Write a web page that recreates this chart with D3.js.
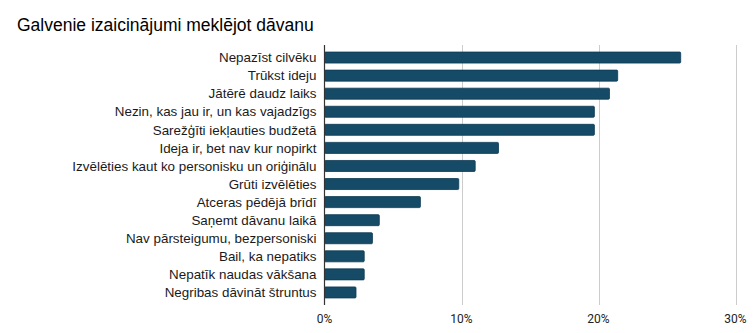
<!DOCTYPE html>
<html>
<head>
<meta charset="utf-8">
<script src="https://cdn.jsdelivr.net/npm/d3@7"></script>
<style>
  html, body { margin: 0; padding: 0; background: #fff; }
  svg { display: block; }
</style>
</head>
<body>
<svg id="chart" width="755" height="333"></svg>
<script>
// Survey answers, share of respondents (%)
const categories = [
  "Nepazīst cilvēku",
  "Trūkst ideju",
  "Jātērē daudz laiks",
  "Nezin, kas jau ir, un kas vajadzīgs",
  "Sarežģīti iekļauties budžetā",
  "Ideja ir, bet nav kur nopirkt",
  "Izvēlēties kaut ko personisku un oriģinālu",
  "Grūti izvēlēties",
  "Atceras pēdējā brīdī",
  "Saņemt dāvanu laikā",
  "Nav pārsteigumu, bezpersoniski",
  "Bail, ka nepatiks",
  "Nepatīk naudas vākšana",
  "Negribas dāvināt štruntus"
];
const values = [26.0, 21.4, 20.8, 19.7, 19.7, 12.7, 11.0, 9.8, 7.0, 4.0, 3.5, 2.9, 2.9, 2.3];
const xTicks = [0, 10, 20, 30];
const title = "Galvenie izaicinājumi meklējot dāvanu";

const svg = d3.select("#chart");
const plotLeft = 324.5, plotRight = 735.5, plotTop = 45, plotBottom = 305;

const x = d3.scaleLinear().domain([0, 30]).range([plotLeft, plotRight]);
const y = d3.scaleBand().domain(categories).range([plotTop, plotBottom])
  .paddingInner(0.39).paddingOuter(0.39);

// title
svg.append("text")
  .attr("x", 17).attr("y", 31)
  .attr("font-family", "Liberation Sans, Arial, sans-serif")
  .attr("font-size", 17.5)
  .attr("fill", "#000")
  .text(title);

// vertical gridlines
svg.append("g")
  .selectAll("line")
  .data(xTicks.filter(d => d > 0))
  .join("line")
  .attr("x1", d => Math.round(x(d)) + 0.5).attr("x2", d => Math.round(x(d)) + 0.5)
  .attr("y1", plotTop).attr("y2", plotBottom)
  .attr("stroke", "#cccccc").attr("stroke-width", 1);

// bars
svg.append("g")
  .selectAll("rect")
  .data(values)
  .join("rect")
  .attr("x", x(0))
  .attr("y", (d, i) => y(categories[i]))
  .attr("width", d => x(d) - x(0))
  .attr("height", y.bandwidth())
  .attr("rx", 1).attr("ry", 1)
  .attr("fill", "#154b67")
  .attr("stroke", "#0c3a53")
  .attr("stroke-width", 0.8);

// category axis line
svg.append("line")
  .attr("x1", x(0)).attr("x2", x(0))
  .attr("y1", plotTop).attr("y2", plotBottom)
  .attr("stroke", "#333").attr("stroke-width", 1.2);

// category labels
svg.append("g")
  .selectAll("text")
  .data(categories)
  .join("text")
  .attr("x", 316.5)
  .attr("y", d => y(d) + y.bandwidth() / 2)
  .attr("dy", "0.35em")
  .attr("text-anchor", "end")
  .attr("font-family", "Liberation Sans, Arial, sans-serif")
  .attr("font-size", 13.4)
  .attr("fill", "#1a1a1a")
  .text(d => d);

// value axis labels
svg.append("g")
  .selectAll("text")
  .data(xTicks)
  .join("text")
  .attr("x", d => x(d))
  .attr("y", 323)
  .attr("text-anchor", "middle")
  .attr("font-family", "Roboto, sans-serif")
  .attr("font-size", 12)
  .attr("fill", "#222")
  .text(d => d + "%");
</script>
</body>
</html>
